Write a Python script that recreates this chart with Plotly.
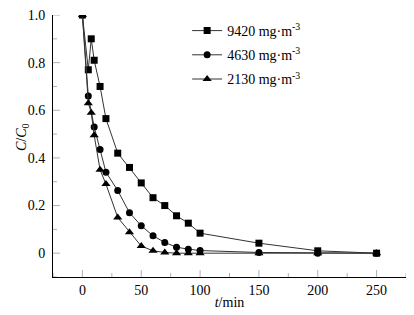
import plotly.graph_objects as go

# Data
t_sq = [0, 5, 7.5, 10, 15, 20, 30, 40, 50, 60, 70, 80, 90, 100, 150, 200, 250]
c_sq = [1.0, 0.77, 0.90, 0.81, 0.70, 0.565, 0.42, 0.36, 0.295, 0.233, 0.20, 0.157, 0.126, 0.084, 0.042, 0.01, 0.0]

t_ci = [0, 5, 10, 15, 20, 30, 40, 50, 60, 70, 80, 90, 100, 150, 200, 250]
c_ci = [1.0, 0.66, 0.53, 0.435, 0.34, 0.263, 0.17, 0.115, 0.073, 0.045, 0.025, 0.017, 0.011, 0.003, 0.0, 0.0]

t_tr = [0, 5, 7.5, 10, 15, 20, 30, 40, 50, 60, 70, 80, 90, 100, 150, 200, 250]
c_tr = [1.0, 0.63, 0.59, 0.495, 0.35, 0.29, 0.15, 0.088, 0.03, 0.01, 0.003, 0.0, 0.0, 0.0, 0.0, 0.0, 0.0]

names = ["9420 mg·m<sup>-3</sup>", "4630 mg·m<sup>-3</sup>", "2130 mg·m<sup>-3</sup>"]
symbols = ["square", "circle", "triangle-up"]

y_tickvals = [0, 0.2, 0.4, 0.6, 0.8, 1.0]
y_ticktext = ["0", "0.2", "0.4", "0.6", "0.8", "1.0"]
y_minorvals = [-0.1, 0.1, 0.3, 0.5, 0.7, 0.9]
x_tickvals = [0, 50, 100, 150, 200, 250]
x_minorvals = [-25, 25, 75, 125, 175, 225, 275]
x_range = [-25, 275]
y_range = [-0.1, 1.0]

font = "Liberation Serif"

fig = go.Figure()
for i, (tx, cy) in enumerate([(t_sq, c_sq), (t_ci, c_ci), (t_tr, c_tr)]):
    fig.add_trace(go.Scatter(
        x=tx, y=cy, mode="lines+markers", name=names[i], legendgroup=str(i),
        line=dict(color="#333333", width=1),
        marker=dict(symbol=symbols[i], size=7 if i != 2 else 8, color="black"),
    ))

# Inward tick marks, placed through the axes' own scales (pixel-length lines)
tick_line = dict(color="black", width=1)
for vals, length in ((x_tickvals, 7), (x_minorvals, 4)):
    for v in vals:
        fig.add_shape(type="line", xref="x", yref="paper", x0=v, x1=v,
                      ysizemode="pixel", yanchor=0, y0=0, y1=length, line=tick_line)
for vals, length in ((y_tickvals, 7), (y_minorvals, 4)):
    for v in vals:
        fig.add_shape(type="line", xref="paper", yref="y", y0=v, y1=v,
                      xsizemode="pixel", xanchor=0, x0=0, x1=length, line=tick_line)

# The page body adds an 8 px offset, so the figure is sized to fill the rest of the window
fig.update_layout(
    template="simple_white",
    width=406, height=307,
    margin=dict(l=45, r=8, t=7, b=38),
    paper_bgcolor="white", plot_bgcolor="white",
    font=dict(family=font, size=14, color="black"),
    showlegend=True,
    legend=dict(x=0.38, y=1.0, xanchor="left", yanchor="top",
                bgcolor="rgba(0,0,0,0)", tracegroupgap=3,
                font=dict(family=font, size=14)),
    xaxis=dict(range=x_range, tickmode="array", tickvals=x_tickvals, ticks="",
               showline=True, linecolor="black", linewidth=1,
               showgrid=False, zeroline=False, automargin=False,
               title=dict(text="<i>t</i>/min", standoff=0, font=dict(size=14))),
    yaxis=dict(range=y_range, tickmode="array", tickvals=y_tickvals, ticktext=y_ticktext,
               ticks="", showline=True,
               linecolor="black", linewidth=1, showgrid=False, zeroline=False,
               ticklabelstandoff=4, automargin=False, ticklabeloverflow="allow",
               title=dict(text="")),
    annotations=[dict(text="<i>C</i>/<i>C</i><sub>0</sub>", xref="paper", yref="paper",
                      x=-0.088, y=0.534, xanchor="center", yanchor="middle", textangle=-90,
                      showarrow=False, font=dict(family=font, size=14, color="black"))],
)

fig.write_html("out.html")
